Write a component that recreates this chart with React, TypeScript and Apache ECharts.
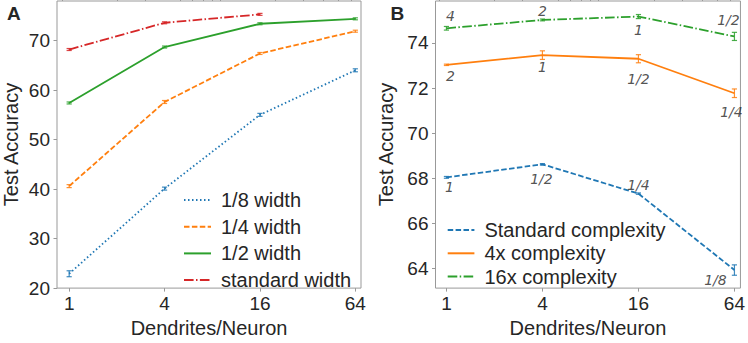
import React, { useEffect, useRef } from 'react';
import * as echarts from 'echarts';

// ---------- data ----------
const dendrites = [1, 4, 16, 64];
const xTickValues = [1, 4, 16, 64];
const xMinorTicks = [0.9, 2, 3, 5, 6, 7, 8, 9, 20, 30, 40, 50, 60];
const yTicksA = [20, 30, 40, 50, 60, 70];
const yTicksB = [64, 66, 68, 70, 72, 74];

const widthNames = ['1/8 width', '1/4 width', '1/2 width', 'standard width'];
const eighthWidth = [22.9, 40.1, 55.0, 64.0];
const eighthWidthErr = [0.6, 0.3, 0.3, 0.3];
const quarterWidth = [40.6, 57.6, 67.4, 71.9];
const quarterWidthErr = [0.3, 0.3, 0.2, 0.2];
const halfWidth = [57.4, 68.7, 73.4, 74.4];
const halfWidthErr = [0.2, 0.2, 0.2, 0.2];
const standardWidthDendrites = [1, 4, 16];
const standardWidth = [68.2, 73.6, 75.3];
const standardWidthErr = [0.2, 0.2, 0.2];

const complexityNames = ['Standard complexity', '4x complexity', '16x complexity'];
const standardComplexity = [68.04, 68.62, 67.32, 63.93];
const standardComplexityErr = [0.04, 0.03, 0.03, 0.23];
const standardComplexityNotes = ['1', '1/2', '1/4', '1/8'];
const complexity4x = [73.03, 73.46, 73.3, 71.77];
const complexity4xErr = [0.03, 0.19, 0.18, 0.19];
const complexity4xNotes = ['2', '1', '1/2', '1/4'];
const complexity16x = [74.65, 75.02, 75.17, 74.29];
const complexity16xErr = [0.08, 0.04, 0.09, 0.18];
const complexity16xNotes = ['4', '2', '1', '1/2'];

// ---------- styles ----------
const FONT = '"Liberation Sans", Arial, sans-serif';
const TEXT = '#262626';
const SPINE = '#999999';
const BLUE = '#1f77b4';
const ORANGE = '#ff7f0e';
const GREEN = '#2ca02c';
const RED = '#d62728';
const DOTTED = [1.5, 2.5];
const DASHED = [5.5, 2.4];
const DASHDOT = [9.6, 2.4, 1.5, 2.4];

const noteOffsetsStandard = [[3, 10], [-1, 15], [0, -9], [-19, 10]];
const noteOffsets4x = [[4, 11], [0, 12], [0, 20], [-3, 19]];
const noteOffsets16x = [[4, -12], [0, -9], [0, 13], [-6, -16]];

function lineSeries(name: string, xs: number[], ys: number[], color: string, dash: any, xi: number, yi: number) {
  return {
    type: 'line',
    name,
    data: xs.map((x, i) => [x, ys[i]]),
    xAxisIndex: xi,
    yAxisIndex: yi,
    symbol: 'none',
    lineStyle: { color, width: 1.8, type: dash, cap: 'butt' },
    itemStyle: { color },
    z: 2,
  };
}

function errSeries(name: string, xs: number[], ys: number[], errs: number[], color: string, xi: number, yi: number) {
  return {
    type: 'custom',
    name,
    xAxisIndex: xi,
    yAxisIndex: yi,
    silent: true,
    z: 3,
    encode: { x: 0, y: 1 },
    data: xs.map((x, i) => [x, ys[i], errs[i]]),
    renderItem: (params: any, api: any) => {
      const x = api.value(0);
      const y = api.value(1);
      const e = api.value(2);
      const p1 = api.coord([x, y + e]);
      const p2 = api.coord([x, y - e]);
      const w = 2.6;
      const style = { stroke: color, lineWidth: 1.2, opacity: 0.85 };
      return {
        type: 'group',
        children: [
          { type: 'line', shape: { x1: p1[0], y1: p1[1], x2: p2[0], y2: p2[1] }, style },
          { type: 'line', shape: { x1: p1[0] - w, y1: p1[1], x2: p1[0] + w, y2: p1[1] }, style },
          { type: 'line', shape: { x1: p2[0] - w, y1: p2[1], x2: p2[0] + w, y2: p2[1] }, style },
        ],
      };
    },
  };
}

function noteSeries(name: string, xs: number[], ys: number[], notes: string[], offsets: number[][]) {
  return {
    type: 'scatter',
    name,
    xAxisIndex: 2,
    yAxisIndex: 1,
    silent: true,
    symbol: 'circle',
    symbolSize: 1,
    itemStyle: { color: 'rgba(0,0,0,0)' },
    z: 5,
    data: xs.map((x, i) => ({
      value: [x, ys[i]],
      name: notes[i],
      label: {
        show: true,
        position: 'inside',
        offset: offsets[i],
        formatter: notes[i],
        fontSize: 14,
        fontStyle: 'italic',
        fontFamily: '"DejaVu Sans", sans-serif',
        color: TEXT,
      },
    })),
  };
}

function xMajor(grid: number, min: number, max: number) {
  return {
    type: 'log',
    logBase: 10,
    gridIndex: grid,
    min,
    max,
    name: 'Dendrites/Neuron',
    nameLocation: 'middle',
    nameGap: 25,
    nameTextStyle: { fontSize: 20, color: TEXT, fontFamily: FONT },
    axisLine: { show: false },
    splitLine: { show: false },
    minorTick: { show: false },
    axisTick: { show: true, length: 3.5, lineStyle: { color: SPINE, width: 1 }, customValues: xTickValues },
    axisLabel: {
      show: true,
      margin: 6,
      fontSize: 19,
      color: TEXT,
      fontFamily: FONT,
      customValues: xTickValues,
      formatter: (v: number) => String(Math.round(v)),
    },
  };
}

function xMinor(grid: number, min: number, max: number) {
  return {
    type: 'log',
    logBase: 10,
    gridIndex: grid,
    min,
    max,
    axisLine: { show: false },
    splitLine: { show: false },
    axisTick: { show: true, length: 2, lineStyle: { color: SPINE, width: 1 }, customValues: xMinorTicks },
    axisLabel: { show: false },
  };
}

function yAxis(grid: number, min: number, max: number, ticks: number[], nameGap: number) {
  return {
    type: 'value',
    gridIndex: grid,
    min,
    max,
    name: 'Test Accuracy',
    nameLocation: 'middle',
    nameGap,
    nameTextStyle: { fontSize: 20, color: TEXT, fontFamily: FONT },
    axisLine: { show: false },
    splitLine: { show: false },
    axisTick: { show: true, length: 3.5, lineStyle: { color: SPINE, width: 1 }, customValues: ticks },
    axisLabel: { show: true, margin: 7, fontSize: 19, color: TEXT, fontFamily: FONT, customValues: ticks },
  };
}

export default function App() {
  const ref = useRef<HTMLDivElement>(null);
  useEffect(() => {
    if (!ref.current) return;
    const chart = echarts.init(ref.current, null, { renderer: 'svg' });
    const legendText = { fontSize: 20, color: TEXT, fontFamily: FONT, lineHeight: 20, padding: [0, 0, 0, 5] };
    chart.setOption({
      animation: false,
      backgroundColor: '#ffffff',
      title: [
        { text: 'A', left: 7, top: 4, padding: 0, textStyle: { fontSize: 19, fontWeight: 'bold', color: TEXT, fontFamily: FONT } },
        { text: 'B', left: 390.5, top: 4, padding: 0, textStyle: { fontSize: 19, fontWeight: 'bold', color: TEXT, fontFamily: FONT } },
      ],
      grid: [
        { left: 54, top: 1, width: 307, height: 294, show: true, borderColor: SPINE, borderWidth: 1, backgroundColor: 'transparent' },
        { left: 435.5, top: 1, width: 306.8, height: 294, show: true, borderColor: SPINE, borderWidth: 1, backgroundColor: 'transparent' },
      ],
      xAxis: [xMajor(0, 0.838, 69.5), xMinor(0, 0.838, 69.5), xMajor(1, 0.854, 69.8), xMinor(1, 0.854, 69.8)],
      yAxis: [yAxis(0, 20, 78, yTicksA, 36), yAxis(1, 63.13, 75.86, yTicksB, 40)],
      legend: [
        {
          data: widthNames,
          orient: 'vertical',
          left: 183,
          top: 190,
          padding: 0,
          itemWidth: 27,
          itemHeight: 2,
          itemGap: 6.7,
          itemStyle: { opacity: 0 },
          textStyle: legendText,
        },
        {
          data: complexityNames,
          orient: 'vertical',
          left: 446.7,
          top: 220,
          padding: 0,
          itemWidth: 26.7,
          itemHeight: 2,
          itemGap: 3.3,
          itemStyle: { opacity: 0 },
          textStyle: legendText,
        },
      ],
      series: [
        lineSeries(widthNames[0], dendrites, eighthWidth, BLUE, DOTTED, 0, 0),
        lineSeries(widthNames[1], dendrites, quarterWidth, ORANGE, DASHED, 0, 0),
        lineSeries(widthNames[2], dendrites, halfWidth, GREEN, 'solid', 0, 0),
        lineSeries(widthNames[3], standardWidthDendrites, standardWidth, RED, DASHDOT, 0, 0),
        errSeries('err-a0', dendrites, eighthWidth, eighthWidthErr, BLUE, 0, 0),
        errSeries('err-a1', dendrites, quarterWidth, quarterWidthErr, ORANGE, 0, 0),
        errSeries('err-a2', dendrites, halfWidth, halfWidthErr, GREEN, 0, 0),
        errSeries('err-a3', standardWidthDendrites, standardWidth, standardWidthErr, RED, 0, 0),
        lineSeries(complexityNames[0], dendrites, standardComplexity, BLUE, DASHED, 2, 1),
        lineSeries(complexityNames[1], dendrites, complexity4x, ORANGE, 'solid', 2, 1),
        lineSeries(complexityNames[2], dendrites, complexity16x, GREEN, DASHDOT, 2, 1),
        errSeries('err-b0', dendrites, standardComplexity, standardComplexityErr, BLUE, 2, 1),
        errSeries('err-b1', dendrites, complexity4x, complexity4xErr, ORANGE, 2, 1),
        errSeries('err-b2', dendrites, complexity16x, complexity16xErr, GREEN, 2, 1),
        noteSeries('note-b0', dendrites, standardComplexity, standardComplexityNotes, noteOffsetsStandard),
        noteSeries('note-b1', dendrites, complexity4x, complexity4xNotes, noteOffsets4x),
        noteSeries('note-b2', dendrites, complexity16x, complexity16xNotes, noteOffsets16x),
      ],
    });
    return () => chart.dispose();
  }, []);
  return (
    <div
      ref={ref}
      style={{ position: 'fixed', left: 0, top: 0, width: 748, height: 343, background: '#fff' }}
    />
  );
}
